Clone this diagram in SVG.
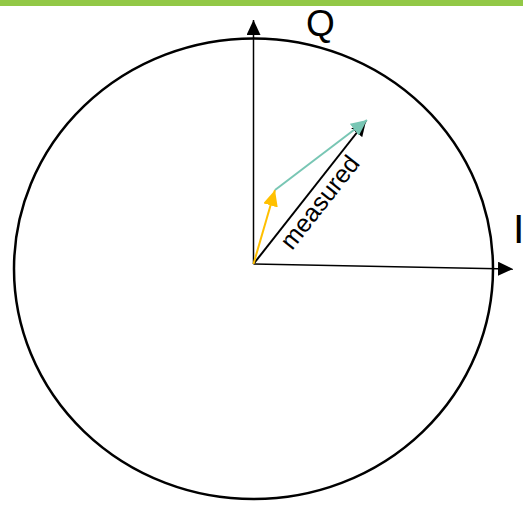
<svg xmlns="http://www.w3.org/2000/svg" width="523" height="505" viewBox="0 0 523 505">
<style>
.lbl{font-family:"Liberation Sans",Arial,sans-serif;fill:#000}
.ax{stroke:#000;stroke-width:1.5;fill:none}
</style>
<defs>
<marker id="hb" markerUnits="userSpaceOnUse" markerWidth="16" markerHeight="14" refX="15" refY="7" orient="auto"><path d="M0,0 L15,7 L0,14 z" fill="#000"/></marker>
<marker id="hy" markerUnits="userSpaceOnUse" markerWidth="17" markerHeight="15" refX="16" refY="7.5" orient="auto"><path d="M0,0 L16,7.5 L0,15 z" fill="#FFC000"/></marker>
<marker id="ht" markerUnits="userSpaceOnUse" markerWidth="17" markerHeight="15" refX="16" refY="7.5" orient="auto"><path d="M0,0 L16,7.5 L0,15 z" fill="#78C6B4"/></marker>
</defs>
<rect x="0" y="0" width="523" height="6" fill="#92C846"/>
<g id="circle"><ellipse cx="253.5" cy="268.8" rx="239.5" ry="230.3" fill="none" stroke="#000" stroke-width="2.5"/></g>
<g id="connectors">
<line class="ax" x1="253.5" y1="264" x2="253.5" y2="20" marker-end="url(#hb)"/>
<line class="ax" x1="253.5" y1="264" x2="513" y2="269" marker-end="url(#hb)"/>
<line x1="253.5" y1="264" x2="366" y2="121" stroke="#000" stroke-width="2" marker-end="url(#hb)"/>
<line x1="253.5" y1="264" x2="275" y2="190" stroke="#FFC000" stroke-width="2" marker-end="url(#hy)"/>
<line x1="275" y1="190" x2="367" y2="120" stroke="#78C6B4" stroke-width="2" marker-end="url(#ht)"/>
</g>
<g id="labels">
<text class="lbl" x="306" y="36" font-size="37">Q</text>
<text class="lbl" x="513" y="243" font-size="41">I</text>
<text class="lbl" x="292" y="251" font-size="25" transform="rotate(-51.7 292 251)">measured</text>
</g>
</svg>
